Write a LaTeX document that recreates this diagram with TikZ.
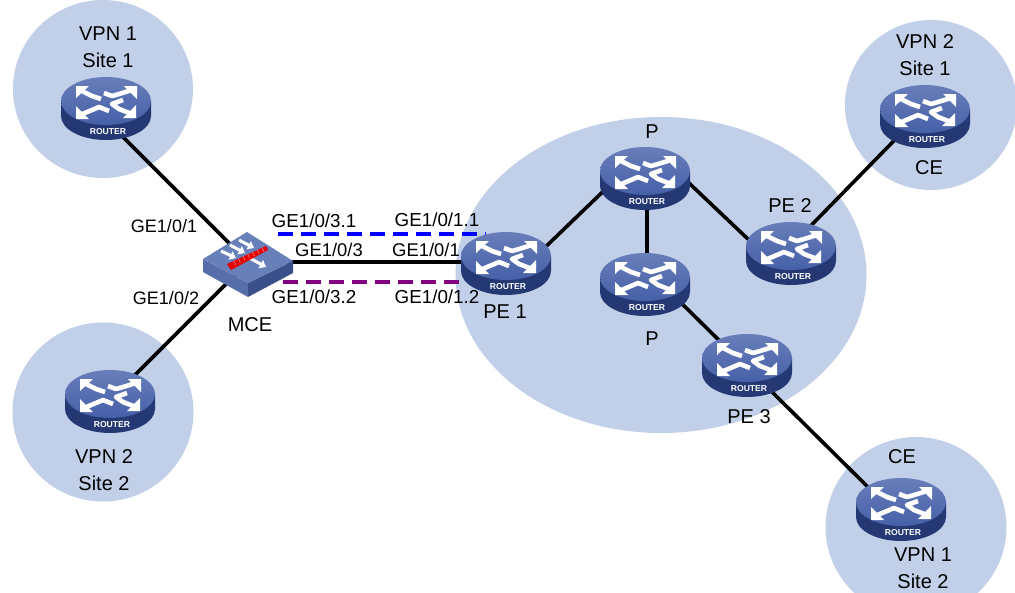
\documentclass[tikz,border=0pt]{standalone}
\usepackage{fontspec}
\setmainfont{Liberation Sans}
\usetikzlibrary{arrows.meta,shapes.geometric}
\definecolor{cloudblue}{RGB}{193,208,232}
\definecolor{rtop}{RGB}{70,96,168}
\definecolor{rside}{RGB}{36,56,116}
\definecolor{rmid}{RGB}{104,126,186}
\definecolor{swtop}{RGB}{104,128,186}
\definecolor{swleft}{RGB}{86,110,170}
\definecolor{swright}{RGB}{58,78,138}
\definecolor{dashblue}{RGB}{0,0,255}
\definecolor{dashpurple}{RGB}{128,0,128}
\tikzset{
  x=1pt,y=-1pt,
  cloud/.style={fill=cloudblue,draw=none,ellipse,inner sep=0pt,outer sep=0pt},
  anchorpt/.style={inner sep=0pt,outer sep=0pt,minimum size=1pt},
  lbl/.style={font=\fontsize{20}{22}\selectfont,text=black,inner sep=0pt},
  plbl/.style={font=\fontsize{18.8}{20}\selectfont,text=black,inner sep=0pt},
  plblm/.style={font=\fontsize{18.4}{20}\selectfont,text=black,inner sep=0pt},
  plbls/.style={font=\fontsize{18}{20}\selectfont,text=black,inner sep=0pt},
  link/.style={line width=3.6pt,black},
  dashlink/.style={line width=3.6pt,dash pattern=on 15pt off 8pt},
  shaft/.style={draw=white,line width=4.6pt,line join=round},
  swarrow/.style={draw=white,line width=3pt,-{Triangle[length=6pt,width=9pt,fill=white]}},
  router/.pic={
    \fill[rside] (-45,0) -- (-45,15) arc[x radius=45,y radius=24,start angle=180,end angle=0] -- (45,0) -- cycle;
    \shade[top color=rmid,bottom color=rtop] (0,0) ellipse[x radius=45,y radius=24];
    % up-left
    \draw[shaft] (-26,-11) -- (-14,-5) -- (-5,-2);
    \fill[white] (-30,-15) -- (-17,-15) -- (-30,-3) -- cycle;
    % up-right
    \draw[shaft] (-2,-8) -- (6,-5) -- (13,-7) -- (26,-11);
    \fill[white] (31,-15) -- (18,-15) -- (31,-2) -- cycle;
    % down-left
    \draw[shaft] (3,10) -- (-7,6) -- (-14,9) -- (-26,14);
    \fill[white] (-30,18) -- (-17,18) -- (-30,5) -- cycle;
    % down-right
    \draw[shaft] (17,-1) -- (6,3) -- (13,8) -- (26,13);
    \fill[white] (30,17) -- (17,17) -- (30,4) -- cycle;
    \node[text=white,inner sep=0pt,font=\fontsize{8.6}{9}\bfseries\selectfont] at (2,31) {ROUTER};
  }
}
\begin{document}
\begin{tikzpicture}
\useasboundingbox (0,0) rectangle (1015,592);
\fill[white] (0,0) rectangle (1015,592);
\begin{scope}
\clip (0,0) rectangle (1015,592);
\node[cloud,minimum width=180pt,minimum height=178pt] (c1) at (103,89) {};
\node[cloud,minimum width=181pt,minimum height=179pt] (c2) at (103,412) {};
\node[cloud,minimum width=172pt,minimum height=170pt] (c3) at (931,105) {};
\node[cloud,minimum width=181pt,minimum height=180pt] (c4) at (916,527) {};
\node[cloud,minimum width=411pt,minimum height=316pt] (c5) at (661,275) {};
\end{scope}
% router reference points
\node[anchorpt] (site1) at (106,101) {};
\node[anchorpt] (site2) at (110,394) {};
\node[anchorpt] (mce) at (248,262) {};
\node[anchorpt] (pe1) at (506,256) {};
\node[anchorpt] (p1) at (645,171) {};
\node[anchorpt] (p2) at (645,277) {};
\node[anchorpt] (pe2) at (791,246) {};
\node[anchorpt] (pe3) at (747,358) {};
\node[anchorpt] (ce2) at (925,109) {};
\node[anchorpt] (ce1) at (901,502) {};
\coordinate (b1) at (278,234);
\coordinate (b2) at (486,234);
\coordinate (v1) at (283,282);
\coordinate (v2) at (466,282);
\coordinate (s1port) at (115,129);
\coordinate (s2port) at (125,385);
\coordinate (pe1port) at (535,257);
\coordinate (p1portl) at (615,180);
\coordinate (p1portr) at (670,165);
\coordinate (pe2portl) at (770,260);
\coordinate (p1portb) at (647,180);
\coordinate (p2portt) at (647,270);
\coordinate (p2portb) at (665,287);
\coordinate (pe3portt) at (735,356);
\coordinate (pe3portb) at (765,385);
\coordinate (ce1port) at (878,497);
% connectors
\draw[link] (s1port) -- (mce);
\draw[link] (s2port) -- (mce);
\draw[link] (mce) -- (pe1 |- mce);
\draw[link] (pe1port) -- (p1portl);
\draw[link] (p1portr) -- (pe2portl);
\draw[link] (p1portb) -- (p2portt);
\draw[link] (p2portb) -- (pe3portt);
\draw[link] (pe2) -- (ce2);
\draw[link] (pe3portb) -- (ce1port);
\draw[dashlink,dashblue] (b1) -- (b2);
\draw[dashlink,dashpurple] (v1) -- (v2);
% routers
\foreach \r in {site1,site2,pe1,p1,p2,pe2,pe3,ce2,ce1}{ \pic at (\r) {router}; }
% MCE switch
\fill[swleft] (203,259) -- (248,283) -- (248,297) -- (203,272) -- cycle;
\fill[swright] (293,261) -- (248,283) -- (248,297) -- (293,273) -- cycle;
\fill[swtop] (203,259) -- (247,232) -- (293,261) -- (248,283) -- cycle;
\draw[swarrow] (221,251) -- (236,258);
\draw[swarrow] (230,245) -- (245,253);
\draw[swarrow] (239,240) -- (254,248);
\draw[swarrow] (246,256) -- (266,267);
\fill[red!90!black] (227,264) -- (266,246) -- (268,250) -- (231,270) -- cycle;
\foreach \k in {1,...,7}{ \draw[white!60!red,line width=0.5pt] ({229+\k*4.7},{263-\k*2.2}) -- ({231+\k*4.7},{267-\k*2.2}); }
% labels
\node[lbl] (t1) at (108,34) {VPN 1};
\node[lbl] (t2) at (108,60) {Site 1};
\node[lbl] (t3) at (104,457) {VPN 2};
\node[lbl] (t4) at (104,483) {Site 2};
\node[lbl] (t5) at (925,42) {VPN 2};
\node[lbl] (t6) at (925,68) {Site 1};
\node[lbl] (t7) at (929,168) {CE};
\node[lbl] (t8) at (902,457) {CE};
\node[lbl] (t9) at (923,555) {VPN 1};
\node[lbl] (t10) at (923,581) {Site 2};
\node[lbl] (t11) at (250,325) {MCE};
\node[lbl] (t12) at (505,312) {PE 1};
\node[lbl] (t13) at (790,206) {PE 2};
\node[lbl] (t14) at (749,417) {PE 3};
\node[lbl] (t15) at (652,132) {P};
\node[lbl] (t16) at (652,339) {P};
\node[plbls] (g1) at (164,226) {GE1/0/1};
\node[plbls] (g2) at (166,298) {GE1/0/2};
\node[plbl] (g3) at (314,221) {GE1/0/3.1};
\node[plblm] (g4) at (329,250) {GE1/0/3};
\node[plbl] (g5) at (314,297) {GE1/0/3.2};
\node[plbl] (g6) at (437,220) {GE1/0/1.1};
\node[plblm] (g7) at (426,250) {GE1/0/1};
\node[plbl] (g8) at (437,297) {GE1/0/1.2};
\end{tikzpicture}
\end{document}
